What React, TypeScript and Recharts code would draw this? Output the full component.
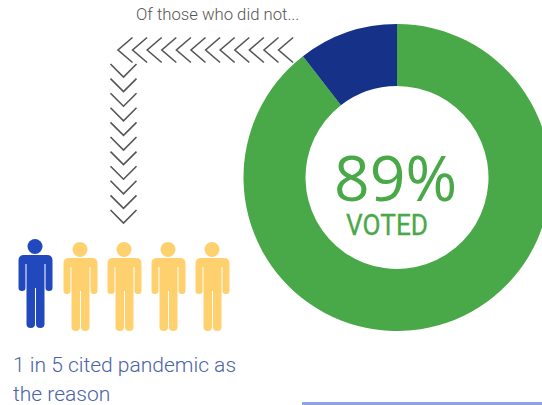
import { PieChart, Pie, Cell } from 'recharts'

const sliceNames = ['Voted', 'Did not vote']
const sliceValues = [89.5, 10.5]
const sliceColors = ['#49a847', '#153288']

const peopleColors = ['#2148bd', '#ffd06e', '#ffd06e', '#ffd06e', '#ffd06e']
const peopleX = [35, 80, 124, 168, 212]
const peopleTop = [255, 258, 258, 258, 258]

const noteLines = ['1 in 5 cited pandemic as', 'the reason']
const rowChevrons = [118, 132.6, 147.2, 161.8, 176.4, 191, 205.6, 220.2, 234.8, 249.4, 264, 278.6]
const columnChevrons = [77, 91.6, 106.2, 120.8, 135.4, 150, 164.6, 179.2, 193.8, 208.4, 223]

const pieData = sliceNames.map((name, i) => ({ name, value: sliceValues[i] }))

const font = 'Roboto, sans-serif'

function Person({ x, top, color }: { x: number; top: number; color: string }) {
  return (
    <g fill={color}>
      <circle cx={x} cy={top - 8.5} r={7.5} />
      <path
        d={`M${x - 12} ${top} h24 q5.5 0 5.5 5.5 v27.5 q0 3 -3.5 3 q-3.5 0 -3.5 -3 v-24 h-1 v60 q0 4 -4.2 4 q-4.3 0 -4.3 -4 v-36 h-1 v36 q0 4 -4.3 4 q-4.2 0 -4.2 -4 v-60 h-1 v24 q0 3 -3.5 3 q-3.5 0 -3.5 -3 v-27.5 q0 -5.5 5.5 -5.5 z`}
      />
    </g>
  )
}

export default function App() {
  return (
    <div style={{ position: 'absolute', left: 0, top: 0, width: 542, height: 405, background: '#fff' }}>
      <PieChart width={542} height={405} margin={{ top: 0, right: 0, bottom: 0, left: 0 }}>
        <Pie
          data={pieData}
          dataKey="value"
          nameKey="name"
          cx={397}
          cy={177.5}
          innerRadius={91.5}
          outerRadius={153.5}
          startAngle={90}
          endAngle={-270}
          stroke="none"
          isAnimationActive={false}
        >
          {sliceColors.map((c) => (
            <Cell key={c} fill={c} />
          ))}
        </Pie>

        <text x={136} y={20} fontFamily={font} fontWeight={300} fontSize={16.7} fill="#555">
          Of those who did not...
        </text>

        {rowChevrons.map((x) => (
          <path key={x} d={`M${x + 14.5} 37.5 L${x} 50 L${x + 14.5} 62.5`} fill="none" stroke="#555" strokeWidth={1.6} />
        ))}
        {columnChevrons.map((y) => (
          <path key={y} d={`M110.5 ${y - 13} L123.5 ${y} L136.5 ${y - 13}`} fill="none" stroke="#555" strokeWidth={1.6} />
        ))}

        {peopleX.map((x, i) => (
          <Person key={x} x={x} top={peopleTop[i]} color={peopleColors[i]} />
        ))}

        <text x={334} y={201} fontFamily="'Open Sans', sans-serif" fontWeight={400} fontSize={62} textLength={123} lengthAdjust="spacingAndGlyphs" fill="#49a847">
          89%
        </text>
        <text x={346} y={235} fontFamily={font} fontWeight={400} fontSize={30} textLength={82} lengthAdjust="spacingAndGlyphs" stroke="#49a847" strokeWidth={0.3} fill="#49a847">
          VOTED
        </text>

        {noteLines.map((line, i) => (
          <text key={line} x={13} y={372 + i * 29} fontFamily={font} fontWeight={300} fontSize={21} fill="#4a62a8">
            {line}
          </text>
        ))}

        <rect x={302} y={402} width={240} height={3} fill="#8fa3e2" />
      </PieChart>
    </div>
  )
}
